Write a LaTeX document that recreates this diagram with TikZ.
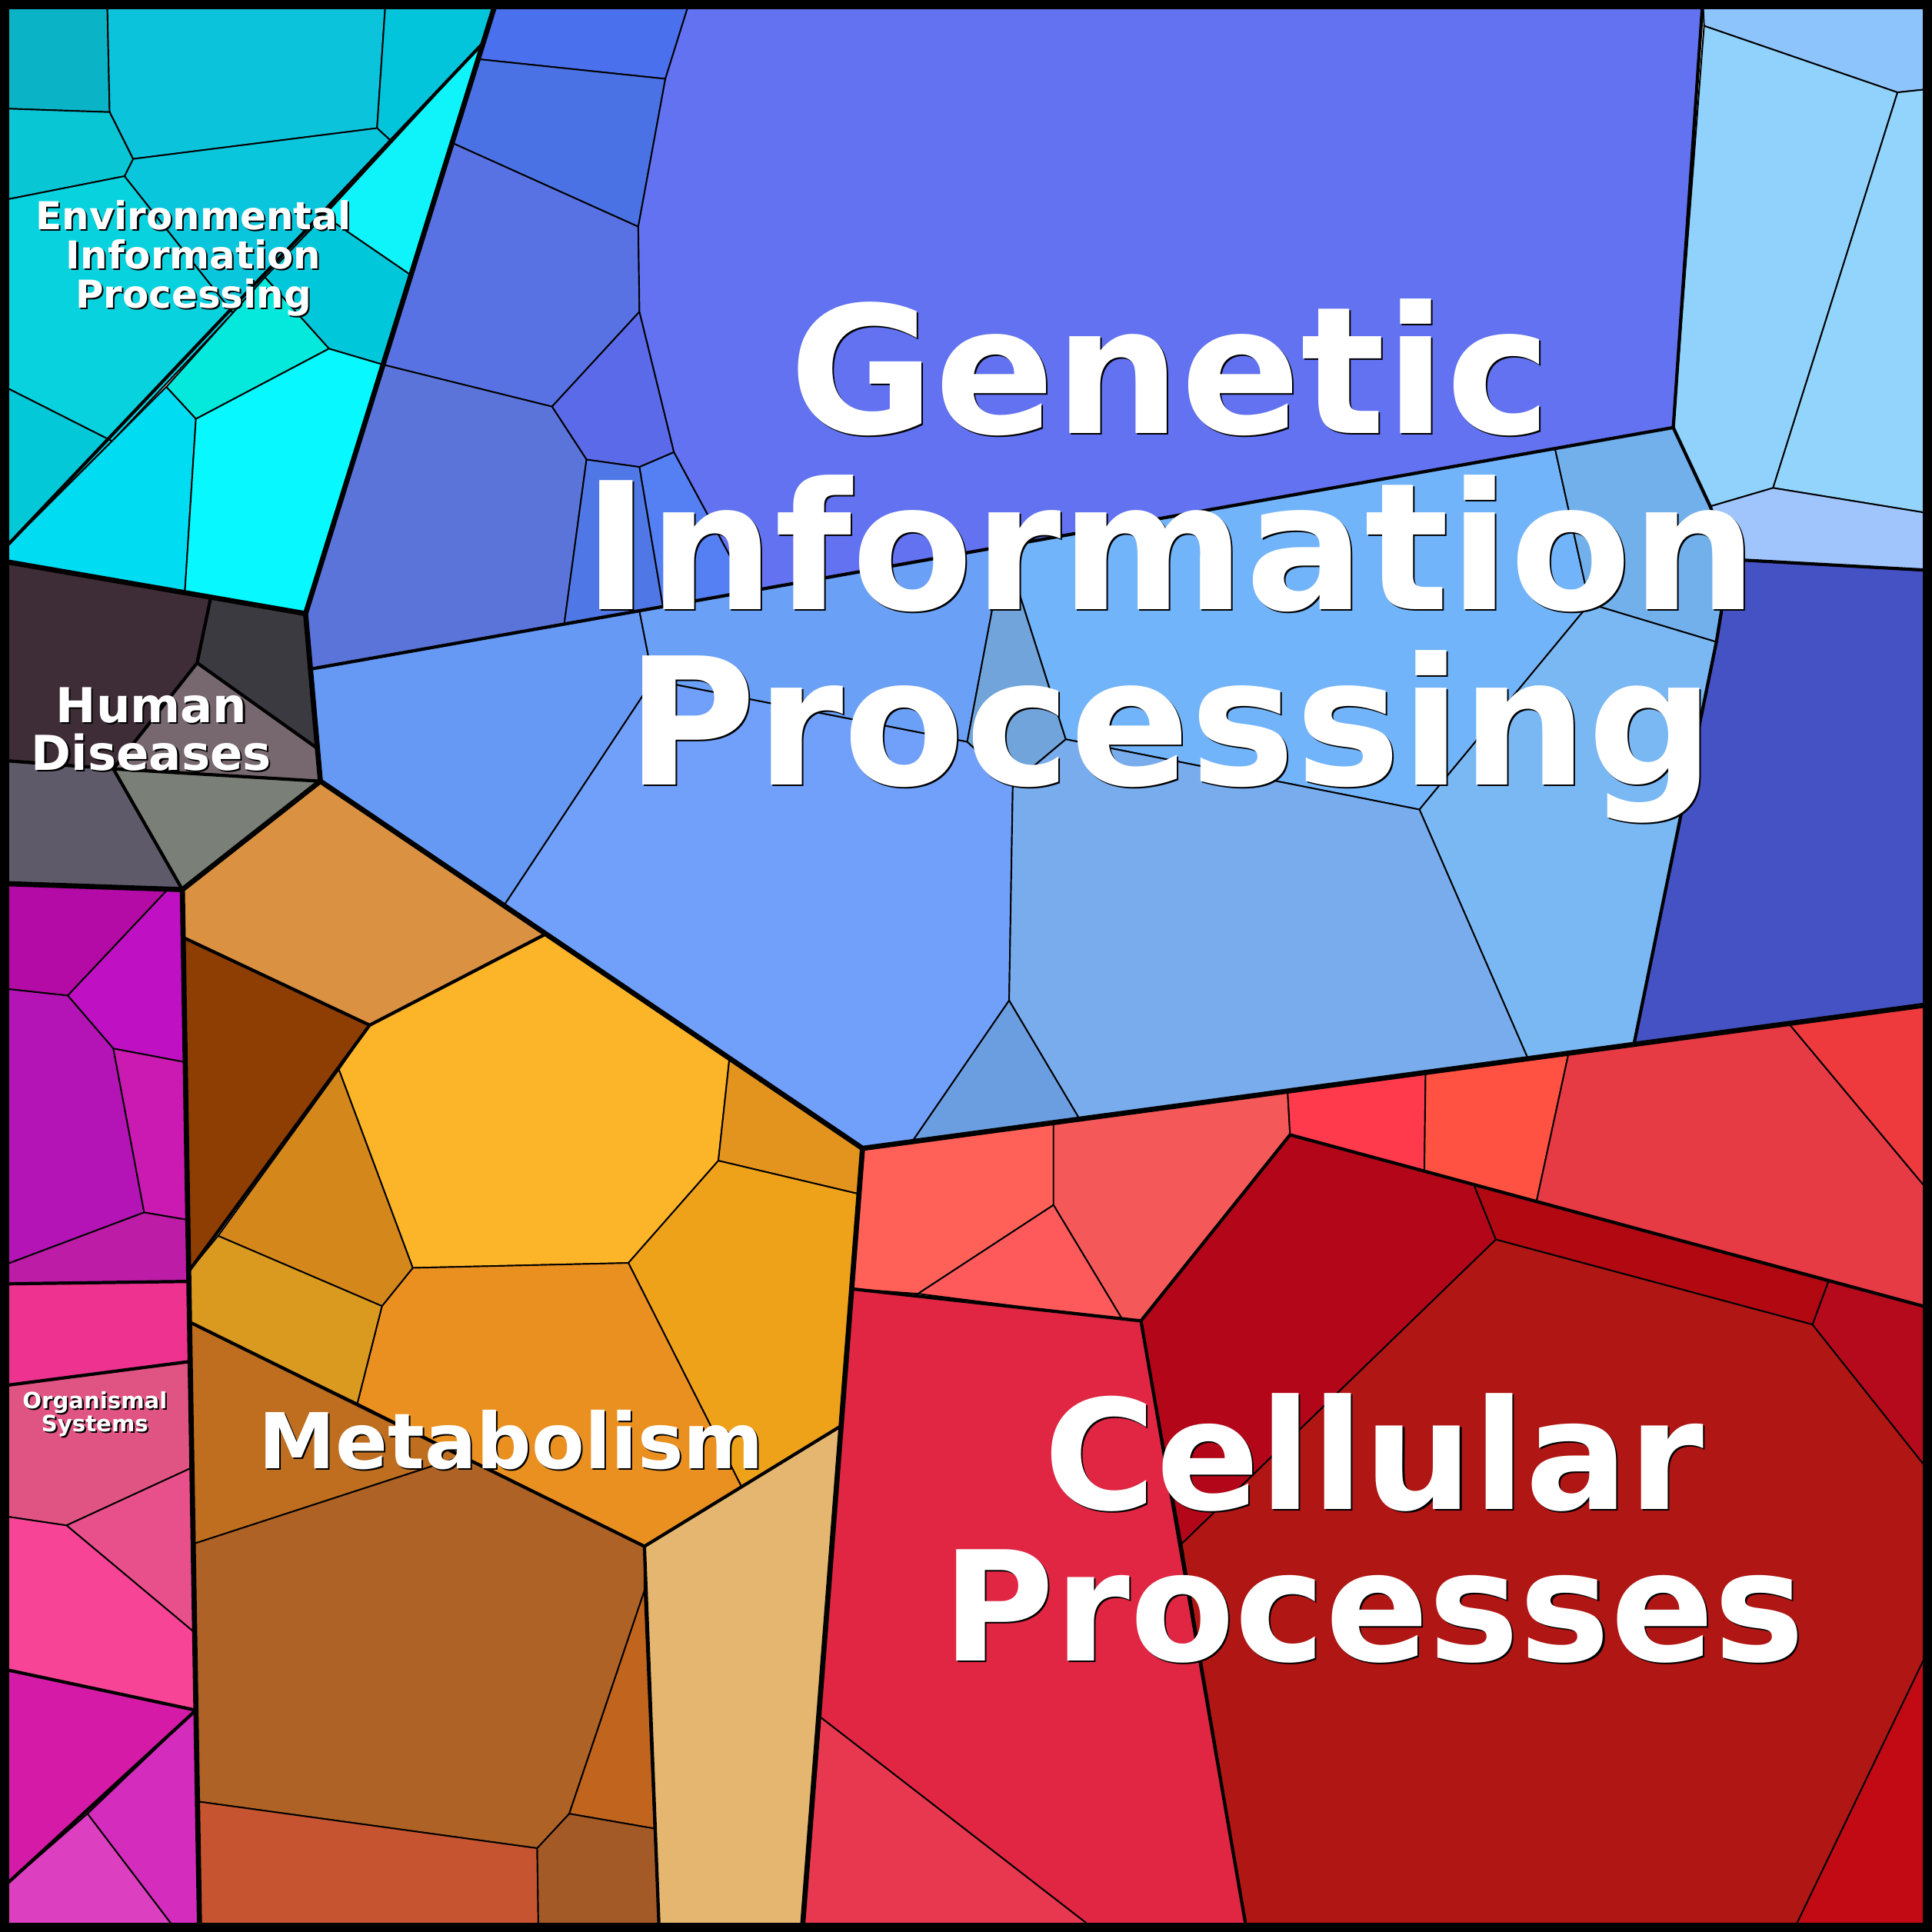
\documentclass[tikz,border=0pt]{standalone}
\usepackage{fontspec}
\setmainfont{DejaVu Sans}
\usetikzlibrary{calc}

% environmental information processing
\definecolor{envA}{HTML}{0AB4C6}
\definecolor{envB}{HTML}{0BC4DC}
\definecolor{envC}{HTML}{02C4DA}
\definecolor{envD}{HTML}{0AC6DC}
\definecolor{envE}{HTML}{07D2DE}
\definecolor{envF}{HTML}{02C8D8}
\definecolor{envG}{HTML}{0FF4FA}
\definecolor{envH}{HTML}{00C8DA}
\definecolor{envI}{HTML}{05E8DC}
\definecolor{envJ}{HTML}{00DCF2}
\definecolor{envK}{HTML}{08F8FF}
% genetic information processing
\definecolor{genA}{HTML}{4A70EE}
\definecolor{genB}{HTML}{4A72E4}
\definecolor{genC}{HTML}{5872E4}
\definecolor{genD}{HTML}{5A6AE8}
\definecolor{genE}{HTML}{5A74DA}
\definecolor{genF}{HTML}{4F78E6}
\definecolor{genG}{HTML}{5580F4}
\definecolor{genH}{HTML}{6272F0}
\definecolor{genI}{HTML}{8EC4FC}
\definecolor{genJ}{HTML}{90D2FC}
\definecolor{genK}{HTML}{92D4FC}
\definecolor{genL}{HTML}{A0C4FC}
\definecolor{genM}{HTML}{4452C4}
\definecolor{midA}{HTML}{6699F4}
\definecolor{midB}{HTML}{70A0FA}
\definecolor{midC}{HTML}{6AA0F6}
\definecolor{midD}{HTML}{70A4DA}
\definecolor{midE}{HTML}{72B4FA}
\definecolor{midF}{HTML}{72B0EC}
\definecolor{midG}{HTML}{7AB8F4}
\definecolor{midH}{HTML}{78ACEC}
\definecolor{midI}{HTML}{6A9EE0}
% human diseases
\definecolor{humA}{HTML}{3E2C36}
\definecolor{humB}{HTML}{3A3A40}
\definecolor{humC}{HTML}{76686E}
\definecolor{humD}{HTML}{5E5A6A}
\definecolor{humE}{HTML}{7A8078}
% organismal systems
\definecolor{orgA}{HTML}{B40AA6}
\definecolor{orgB}{HTML}{C010C4}
\definecolor{orgC}{HTML}{B414B6}
\definecolor{orgD}{HTML}{CA1AB2}
\definecolor{orgE}{HTML}{BC1CA6}
\definecolor{orgF}{HTML}{EE3290}
\definecolor{orgG}{HTML}{E05484}
\definecolor{orgH}{HTML}{E8508C}
\definecolor{orgI}{HTML}{F84496}
\definecolor{orgJ}{HTML}{D41AA6}
\definecolor{orgK}{HTML}{D42CBC}
\definecolor{orgL}{HTML}{DC40C0}
% metabolism
\definecolor{metA}{HTML}{DA9242}
\definecolor{metB}{HTML}{8E3E02}
\definecolor{metC}{HTML}{FCB428}
\definecolor{metD}{HTML}{E2941E}
\definecolor{metE}{HTML}{EEA21A}
\definecolor{metF}{HTML}{E99020}
\definecolor{metG}{HTML}{D4881C}
\definecolor{metH}{HTML}{DA9A20}
\definecolor{metI}{HTML}{BE6E1E}
\definecolor{metJ}{HTML}{AE6226}
\definecolor{metK}{HTML}{C0641E}
\definecolor{metL}{HTML}{C65430}
\definecolor{metM}{HTML}{A45A26}
\definecolor{metN}{HTML}{E4B670}
% cellular processes
\definecolor{celA}{HTML}{FF6058}
\definecolor{celB}{HTML}{F45858}
\definecolor{celC}{HTML}{FE5A5C}
\definecolor{celD}{HTML}{FF3A4C}
\definecolor{celE}{HTML}{FF5242}
\definecolor{celF}{HTML}{E63A44}
\definecolor{celG}{HTML}{EE3A3C}
\definecolor{celH}{HTML}{B40619}
\definecolor{celI}{HTML}{B10812}
\definecolor{celJ}{HTML}{B01614}
\definecolor{celK}{HTML}{B50A1C}
\definecolor{celL}{HTML}{C20A14}
\definecolor{celM}{HTML}{E02642}
\definecolor{celN}{HTML}{E83850}

\tikzset{
  cell/.style={draw=black, line width=0.55pt, line join=round},
  sub/.style={draw=black, line width=1.2pt, line join=round},
  top/.style={draw=black, line width=1.9pt, line join=round},
  title/.style={text=white, align=center, anchor=base, inner sep=0pt},
  shade/.style={text=black, align=center, anchor=base, inner sep=0pt}
}

% the anchor is the baseline of the last line
\newcommand{\voronoititle}[4]{%
  \node [shade, font=#3] at ($(#1)+(1.3,1.3)$) {#4};
  \node [title, font=#3] (#2) at (#1) {#4};
}

\begin{document}
\begin{tikzpicture}[x=0.01602cm, y=-0.01602cm]
    \useasboundingbox (0,0) rectangle (1568,1568);
    % environmental information processing
    \filldraw [cell, fill=envA] (0,0) -- (87,0) -- (89,91) -- (0,88) -- cycle;
    \filldraw [cell, fill=envB] (87,0) -- (313,0) -- (306,104) -- (108,129) -- (89,91) -- cycle;
    \filldraw [cell, fill=envC] (313,0) -- (403,0) -- (392,35) -- (318,115) -- (306,104) -- cycle;
    \filldraw [cell, fill=envD] (108,129) -- (306,104) -- (318,115) -- (189,254) -- (101,143) -- cycle;
    \filldraw [cell, fill=envA!40!envE] (0,88) -- (89,91) -- (108,129) -- (101,143) -- (0,163) -- cycle;
    \filldraw [cell, fill=envE] (0,163) -- (101,143) -- (189,254) -- (91,358) -- (0,312) -- cycle;
    \filldraw [cell, fill=envF] (0,312) -- (91,358) -- (0,449) -- cycle;
    \filldraw [cell, fill=envG] (392,35) -- (333,223) -- (263,175) -- cycle;
    \filldraw [cell, fill=envH] (263,175) -- (333,223) -- (311,296) -- (267,283) -- (215,225) -- cycle;
    \filldraw [cell, fill=envI] (215,225) -- (267,283) -- (159,340) -- (135,314) -- cycle;
    \filldraw [cell, fill=envJ] (135,314) -- (159,340) -- (150,481) -- (0,455) -- (0,449) -- cycle;
    \filldraw [cell, fill=envK] (159,340) -- (267,283) -- (311,296) -- (248,498) -- (150,481) -- cycle;
    % genetic information processing, upper group
    \filldraw [cell, fill=genA] (403,0) -- (560,0) -- (540,64) -- (388,48) -- cycle;
    \filldraw [cell, fill=genB] (388,48) -- (540,64) -- (518,184) -- (367,116) -- cycle;
    \filldraw [cell, fill=genC] (367,116) -- (518,184) -- (519,253) -- (448,330) -- (311,296) -- cycle;
    \filldraw [cell, fill=genD] (519,253) -- (547,367) -- (519,379) -- (476,373) -- (448,330) -- cycle;
    \filldraw [cell, fill=genE] (311,296) -- (448,330) -- (476,373) -- (458,506) -- (252,543) -- (248,498) -- cycle;
    \filldraw [cell, fill=genF] (476,373) -- (519,379) -- (538,492) -- (458,506) -- cycle;
    \filldraw [cell, fill=genG] (519,379) -- (547,367) -- (608,480) -- (538,492) -- cycle;
    \filldraw [cell, fill=genH] (560,0) -- (1382,0) -- (1358,347) -- (608,480) -- (547,367) -- (519,253) -- (518,184) -- (540,64) -- cycle;
    % genetic information processing, right group
    \filldraw [cell, fill=genI] (1382,0) -- (1568,0) -- (1568,72) -- (1540,75) -- (1383,21) -- cycle;
    \filldraw [cell, fill=genJ] (1383,21) -- (1540,75) -- (1439,396) -- (1388,411) -- (1358,347) -- cycle;
    \filldraw [cell, fill=genK] (1540,75) -- (1568,72) -- (1568,417) -- (1439,396) -- cycle;
    \filldraw [cell, fill=genL] (1388,411) -- (1439,396) -- (1568,417) -- (1568,463) -- (1404,454) -- cycle;
    \filldraw [cell, fill=genM] (1404,454) -- (1568,463) -- (1568,815) -- (1326,848) -- (1393,521) -- cycle;
    % genetic information processing, middle group
    \filldraw [cell, fill=midA] (252,543) -- (519,496) -- (530,552) -- (409,735) -- (260,634) -- cycle;
    \filldraw [cell, fill=midB] (530,552) -- (785,602) -- (822,636) -- (819,812) -- (740,927) -- (700,932) -- (409,735) -- cycle;
    \filldraw [cell, fill=midC] (519,496) -- (815,443) -- (785,602) -- (530,552) -- cycle;
    \filldraw [cell, fill=midD] (815,443) -- (865,600) -- (822,636) -- (785,602) -- cycle;
    \filldraw [cell, fill=midE] (815,443) -- (1262,364) -- (1290,490) -- (1152,657) -- (865,600) -- cycle;
    \filldraw [cell, fill=midF] (1262,364) -- (1358,347) -- (1388,411) -- (1404,454) -- (1393,521) -- (1290,490) -- cycle;
    \filldraw [cell, fill=midG] (1290,490) -- (1393,521) -- (1326,848) -- (1240,859) -- (1152,657) -- cycle;
    \filldraw [cell, fill=midH] (865,600) -- (1152,657) -- (1240,859) -- (876,908) -- (819,812) -- (822,636) -- cycle;
    \filldraw [cell, fill=midI] (819,812) -- (876,908) -- (740,927) -- cycle;
    % human diseases
    \filldraw [cell, fill=humA] (0,455) -- (171,485) -- (160,538) -- (92,624) -- (0,617) -- cycle;
    \filldraw [cell, fill=humB] (171,485) -- (248,498) -- (257,607) -- (160,538) -- cycle;
    \filldraw [cell, fill=humC] (160,538) -- (257,607) -- (260,634) -- (92,624) -- cycle;
    \filldraw [cell, fill=humD] (0,617) -- (92,624) -- (148,722) -- (0,717) -- cycle;
    \filldraw [cell, fill=humE] (92,624) -- (260,634) -- (148,722) -- cycle;
    % organismal systems
    \filldraw [cell, fill=orgA] (0,717) -- (136,722) -- (55,808) -- (0,802) -- cycle;
    \filldraw [cell, fill=orgB] (136,722) -- (148,722) -- (150,862) -- (92,851) -- (55,808) -- cycle;
    \filldraw [cell, fill=orgC] (0,802) -- (55,808) -- (92,851) -- (117,984) -- (0,1028) -- cycle;
    \filldraw [cell, fill=orgD] (92,851) -- (150,862) -- (152,990) -- (117,984) -- cycle;
    \filldraw [cell, fill=orgE] (0,1028) -- (117,984) -- (152,990) -- (153,1040) -- (0,1042) -- cycle;
    \filldraw [cell, fill=orgF] (0,1042) -- (153,1040) -- (154,1105) -- (0,1125) -- cycle;
    \filldraw [cell, fill=orgG] (0,1125) -- (154,1105) -- (156,1191) -- (54,1238) -- (0,1230) -- cycle;
    \filldraw [cell, fill=orgH] (54,1238) -- (156,1191) -- (158,1325) -- cycle;
    \filldraw [cell, fill=orgI] (0,1230) -- (54,1238) -- (158,1325) -- (159,1388) -- (0,1354) -- cycle;
    \filldraw [cell, fill=orgJ] (0,1354) -- (159,1388) -- (71,1472) -- (0,1534) -- cycle;
    \filldraw [cell, fill=orgK] (159,1388) -- (162,1568) -- (144,1568) -- (71,1472) -- cycle;
    \filldraw [cell, fill=orgL] (0,1534) -- (71,1472) -- (144,1568) -- (0,1568) -- cycle;
    % metabolism
    \filldraw [cell, fill=metA] (148,722) -- (260,634) -- (443,758) -- (300,832) -- (149,761) -- cycle;
    \filldraw [cell, fill=metB] (149,761) -- (300,832) -- (153,1032) -- cycle;
    \filldraw [cell, fill=metC] (300,832) -- (443,758) -- (592,859) -- (583,942) -- (510,1025) -- (335,1029) -- (275,868) -- cycle;
    \filldraw [cell, fill=metD] (592,859) -- (700,932) -- (697,969) -- (583,942) -- cycle;
    \filldraw [cell, fill=metE] (583,942) -- (697,969) -- (683,1157) -- (602,1207) -- (510,1025) -- cycle;
    \filldraw [cell, fill=metF] (335,1029) -- (510,1025) -- (602,1207) -- (523,1255) -- (290,1139) -- (310,1060) -- cycle;
    \filldraw [cell, fill=metG] (275,868) -- (335,1029) -- (310,1060) -- (177,1003) -- cycle;
    \filldraw [cell, fill=metH] (177,1003) -- (310,1060) -- (290,1139) -- (154,1073) -- (153,1032) -- cycle;
    \filldraw [cell, fill=metI] (154,1073) -- (375,1182) -- (157,1253) -- cycle;
    \filldraw [cell, fill=metJ] (157,1253) -- (375,1182) -- (523,1255) -- (523,1291) -- (462,1472) -- (436,1500) -- (160,1462) -- cycle;
    \filldraw [cell, fill=metK] (523,1291) -- (531,1484) -- (462,1472) -- cycle;
    \filldraw [cell, fill=metL] (160,1462) -- (436,1500) -- (437,1568) -- (162,1568) -- cycle;
    \filldraw [cell, fill=metM] (436,1500) -- (462,1472) -- (531,1484) -- (535,1568) -- (437,1568) -- cycle;
    \filldraw [cell, fill=metN] (523,1255) -- (683,1157) -- (651,1568) -- (535,1568) -- cycle;
    % cellular processes
    \filldraw [cell, fill=celA] (700,932) -- (855,911) -- (855,978) -- (745,1050) -- (691,1046) -- cycle;
    \filldraw [cell, fill=celB] (855,911) -- (1045,886) -- (1047,921) -- (926,1072) -- (911,1071) -- (855,978) -- cycle;
    \filldraw [cell, fill=celC] (745,1050) -- (855,978) -- (911,1071) -- cycle;
    \filldraw [cell, fill=celD] (1045,886) -- (1157,870) -- (1156,950) -- (1047,921) -- cycle;
    \filldraw [cell, fill=celE] (1157,870) -- (1273,855) -- (1247,975) -- (1196,963) -- (1156,950) -- cycle;
    \filldraw [cell, fill=celF] (1273,855) -- (1452,831) -- (1568,970) -- (1568,1062) -- (1484,1044) -- (1247,975) -- cycle;
    \filldraw [cell, fill=celG] (1452,831) -- (1568,815) -- (1568,970) -- cycle;
    \filldraw [cell, fill=celH] (1047,921) -- (1196,961) -- (1214,1006) -- (959,1253) -- (926,1072) -- cycle;
    \filldraw [cell, fill=celI] (1196,961) -- (1484,1040) -- (1471,1075) -- (1214,1006) -- cycle;
    \filldraw [cell, fill=celJ] (1214,1006) -- (1471,1075) -- (1568,1197) -- (1568,1333) -- (1455,1568) -- (1012,1568) -- (959,1253) -- cycle;
    \filldraw [cell, fill=celK] (1484,1040) -- (1568,1062) -- (1568,1197) -- (1471,1075) -- cycle;
    \filldraw [cell, fill=celL] (1568,1333) -- (1568,1568) -- (1455,1568) -- cycle;
    \filldraw [cell, fill=celM] (691,1046) -- (926,1072) -- (1012,1568) -- (891,1568) -- (665,1393) -- cycle;
    \filldraw [cell, fill=celN] (665,1393) -- (891,1568) -- (651,1568) -- cycle;

    % group borders
    \draw [sub] (392,35) -- (0,449);
    \draw [sub] (252,543) -- (1358,347) -- (1388,411) -- (1404,454) -- (1393,521) -- (1326,848);
    \draw [sub] (1404,454) -- (1568,463);
    \draw [sub] (1382,0) -- (1358,347);
    \draw [sub] (171,485) -- (160,538) -- (92,624) -- (0,617);
    \draw [sub] (160,538) -- (257,607);
    \draw [sub] (92,624) -- (260,634);
    \draw [sub] (92,624) -- (148,722);
    \draw [sub] (0,1042) -- (153,1040);
    \draw [sub] (0,1125) -- (154,1105);
    \draw [sub] (0,1354) -- (159,1388);
    \draw [sub] (159,1388) -- (0,1534);
    \draw [sub] (149,761) -- (300,832) -- (443,758);
    \draw [sub] (300,832) -- (153,1032);
    \draw [sub] (154,1073) -- (523,1255) -- (683,1157);
    \draw [sub] (523,1255) -- (535,1568);
    \draw [sub] (691,1046) -- (926,1072) -- (1047,921) -- (1568,1062);
    \draw [sub] (926,1072) -- (1012,1568);
    % category borders
    \draw [top] (403,0) -- (248,498) -- (260,634) -- (700,932) -- (1568,815);
    \draw [top] (0,455) -- (248,498);
    \draw [top] (260,634) -- (148,722) -- (162,1568);
    \draw [top] (0,717) -- (148,722);
    \draw [top] (700,932) -- (651,1568);
    \draw [line width=7pt] (0,0) rectangle (1568,1568);

    % labels
    \voronoititle{950,637}{genetic}{\fontsize{65.5}{65}\selectfont\bfseries}{Genetic\\Information\\Processing}
    \voronoititle{1115,1348}{cellular}{\fontsize{56.5}{56}\selectfont\bfseries}{Cellular\\Processes}
    \voronoititle{415,1192}{metabolism}{\fontsize{28.5}{30}\selectfont\bfseries}{Metabolism}
    \voronoititle{157,250}{environmental}{\fontsize{14.2}{14.5}\selectfont\bfseries}{Environmental\\Information\\Processing}
    \voronoititle{123,625}{human}{\fontsize{17.8}{17.5}\selectfont\bfseries}{Human\\Diseases}
    \voronoititle{77,1162}{organismal}{\fontsize{8.3}{8.6}\selectfont\bfseries}{Organismal\\Systems}
\end{tikzpicture}
\end{document}
